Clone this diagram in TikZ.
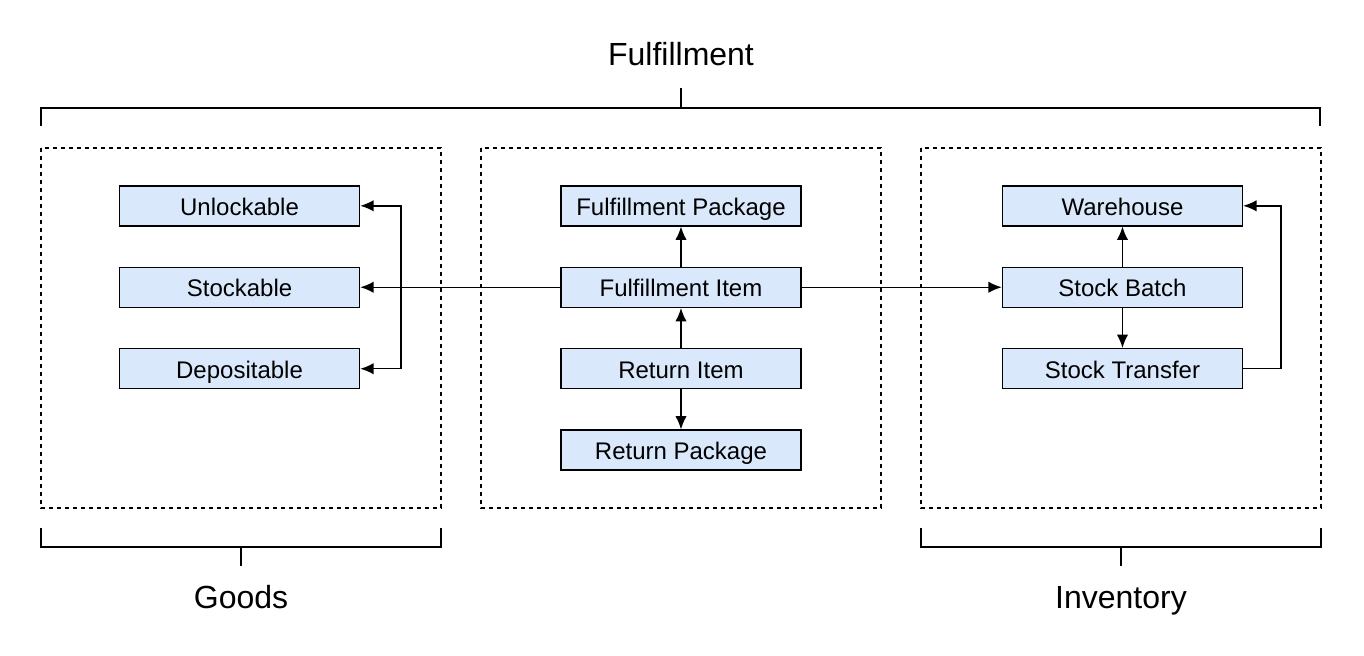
\documentclass[tikz,border=0pt]{standalone}
\usepackage{fontspec}
\setmainfont{Liberation Sans}
\usepackage{tikz}
\usetikzlibrary{arrows,arrows.meta,matrix}
\definecolor{boxblue}{HTML}{DAE8FC}

\begin{document}
\begin{tikzpicture}[x=0.75pt,y=-0.75pt,line width=1.1pt, >={Latex[length=10pt,width=8.5pt]}, every node/.style={font=\fontsize{18}{21}\selectfont}]
\useasboundingbox (0,0) rectangle (1364,656);

\draw[dash pattern=on 3pt off 3pt] (41,148) rectangle (441,508);
\draw[dash pattern=on 3pt off 3pt] (481,148) rectangle (881,508);
\draw[dash pattern=on 3pt off 3pt] (921,148) rectangle (1321,508);

\matrix (m)[matrix of nodes, column sep=150pt,row sep=30pt, inner sep=0pt, nodes={draw, fill=boxblue, anchor=center, inner sep=0pt, text height=16pt, text depth=1.5pt, minimum width=180pt, minimum height=30pt} ] at (681,328) {
Unlockable & Fulfillment Package & Warehouse\\
Stockable & Fulfillment Item & Stock Batch\\
Depositable & Return Item & Stock Transfer\\
 & Return Package & \\
};

\node[font=\fontsize{24}{28}\selectfont, text height=17pt, text depth=5pt] (top) at (681,58) {Fulfillment};
\node[font=\fontsize{24}{28}\selectfont, text height=17pt, text depth=5pt] (goods) at (241,600) {Goods};
\node[font=\fontsize{24}{28}\selectfont, text height=17pt, text depth=5pt] (inv) at (1121,600) {Inventory};

\draw (41,126) -- (41,108) -- (1320,108) -- (1320,126);
\draw (681,108) -- (681,88);
\draw (41,528) -- (41,547) -- (441,547) -- (441,528);
\draw (241,547) -- (241,566);
\draw (921,528) -- (921,547) -- (1321,547) -- (1321,528);
\draw (1121,547) -- (1121,566);

\coordinate (gl) at (401,288);
\coordinate (gr) at (1281,288);
\draw[->] (m-2-2.west)--(m-2-1.east);
\draw[<->] (m-1-1.east) -| (gl) |- (m-3-1.east);
\draw[->] (m-2-2.north)--(m-1-2.south);
\draw[->] (m-3-2.north)--(m-2-2.south);
\draw[->] (m-3-2.south)--(m-4-2.north);
\draw[->] (m-2-2.east)--(m-2-3.west);
\draw[->] (m-2-3.north)--(m-1-3.south);
\draw[->] (m-2-3.south)--(m-3-3.north);
\draw[->] (m-3-3.east) -| (gr) |- (m-1-3.east);
\end{tikzpicture}
\end{document}
